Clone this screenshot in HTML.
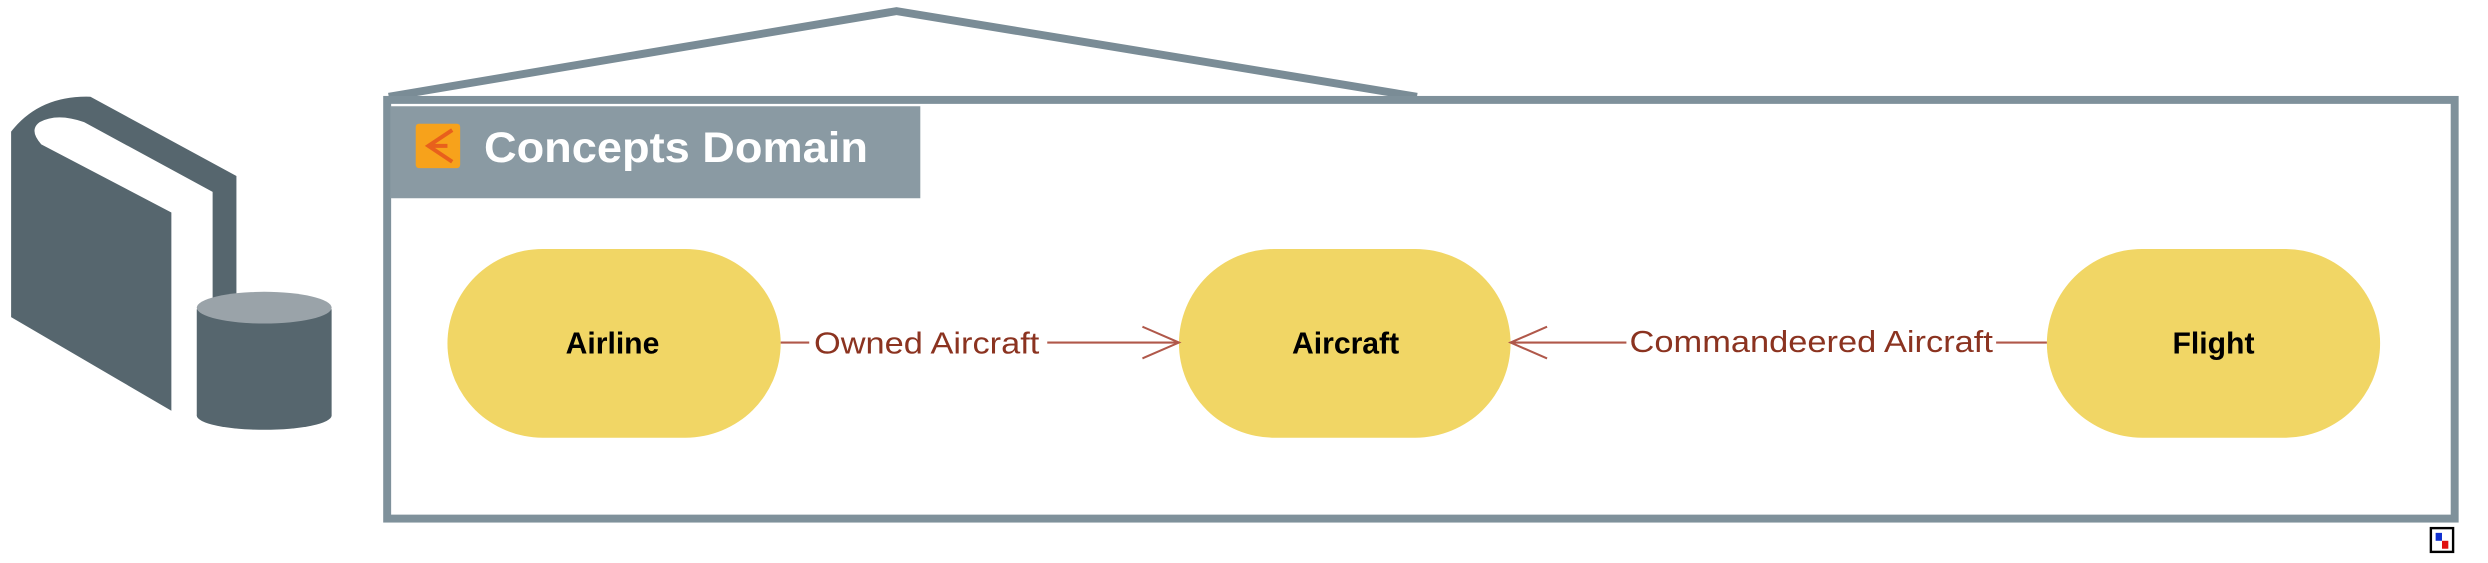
<!DOCTYPE html>
<html><head><meta charset="utf-8"><style>
html,body{margin:0;padding:0;background:#fff;}
svg{display:block;}
</style></head><body>
<svg width="2488" height="563" viewBox="0 0 1568 355" preserveAspectRatio="none" xmlns="http://www.w3.org/2000/svg">
<rect width="1568" height="355" fill="#fff"/>
<!-- left icon -->
<path d="M7,83 Q25,60 57,61 L149,111 L149,192 L108,192 L108,259 L7,200 Z" fill="#56666e"/>
<path d="M26,91 Q18,82 25,77 Q36,71 53,77 L134,121 L134,192 L108,192 L108,134 Z" fill="#fff"/>
<rect x="124" y="195" width="85" height="67" fill="#56666e"/>
<ellipse cx="166.5" cy="262" rx="42.5" ry="9" fill="#56666e"/>
<ellipse cx="166.5" cy="194" rx="42.5" ry="10" fill="#9aa3a9"/>
<!-- roof -->
<polyline points="245,61 565,7 893,61" fill="none" stroke="#7a8c96" stroke-width="5"/>
<!-- frame -->
<rect x="244" y="63" width="1303" height="264" fill="#fff" stroke="#7f919b" stroke-width="5"/>
<rect x="246" y="67" width="334" height="58" fill="#8a9aa3"/>
<rect x="262" y="78" width="28" height="28" rx="2" fill="#f7a21b"/>
<path d="M285,82 L270,92 L285,102 M270,92 L282,92" stroke="#e8601c" stroke-width="2.5" fill="none"/>
<text x="305" y="102" font-family="Liberation Sans, sans-serif" font-size="27" font-weight="bold" fill="#fff" textLength="242" lengthAdjust="spacingAndGlyphs">Concepts Domain</text>
<!-- nodes -->
<rect x="282" y="157" width="210" height="119" rx="60" ry="60" fill="#f1d665"/>
<rect x="743" y="157" width="209" height="119" rx="60" ry="60" fill="#f1d665"/>
<rect x="1290" y="157" width="210" height="119" rx="60" ry="60" fill="#f1d665"/>
<g font-family="Liberation Sans, sans-serif" font-size="19" font-weight="bold" fill="#000" text-anchor="middle">
<text x="386" y="223">Airline</text>
<text x="848" y="223">Aircraft</text>
<text x="1395" y="223">Flight</text>
</g>
<!-- edges -->
<g stroke="#b0584a" stroke-width="1.3" fill="none">
<line x1="492" y1="216" x2="510" y2="216"/>
<line x1="660" y1="216" x2="743" y2="216"/>
<polyline points="720,206 743,216 720,226"/>
<line x1="952" y1="216" x2="1025" y2="216"/>
<line x1="1258" y1="216" x2="1290" y2="216"/>
<polyline points="975,206 952,216 975,226"/>
</g>
<g font-family="Liberation Sans, sans-serif" font-size="19" fill="#8b3320">
<text x="513" y="223" textLength="142" lengthAdjust="spacingAndGlyphs">Owned Aircraft</text>
<text x="1027" y="222" textLength="229" lengthAdjust="spacingAndGlyphs">Commandeered Aircraft</text>
</g>
<!-- small icon -->
<rect x="1532" y="333" width="14" height="15" fill="#fff" stroke="#000" stroke-width="1.5"/>
<rect x="1535" y="336" width="4" height="5" fill="#1030d0"/>
<rect x="1539" y="341" width="4" height="5" fill="#e01010"/>
</svg>
</body></html>
